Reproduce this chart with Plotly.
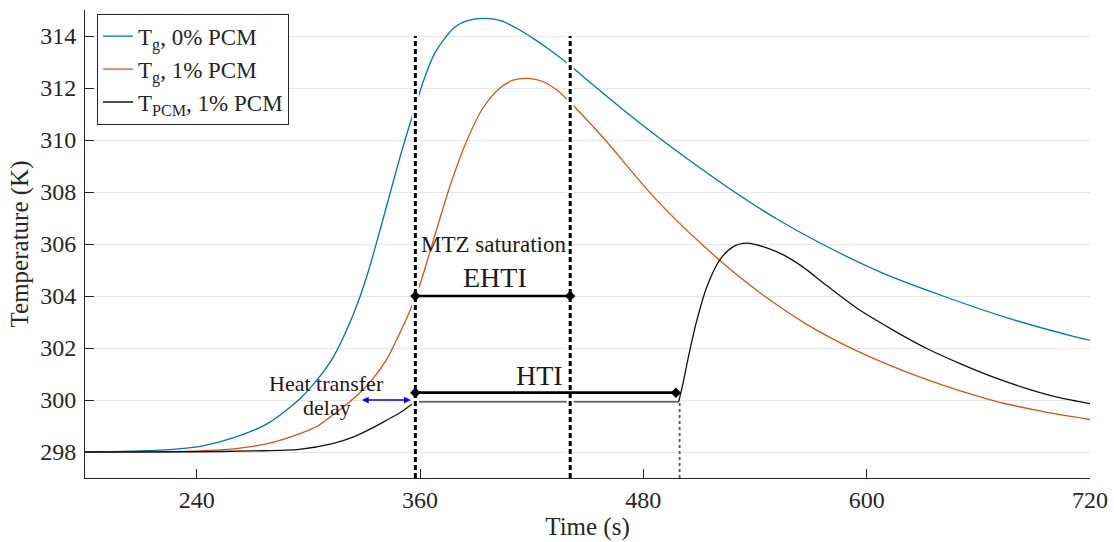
import plotly.graph_objects as go

# Gas temperature, 0 % PCM
t_g0 = [180, 220, 242, 260, 278, 295.5, 305, 313.4, 324.2, 331.4, 340.3, 349.3, 356, 362,
        368, 378, 386, 394, 403, 412, 421, 430, 440, 455, 472, 490, 509, 528, 552, 576,
        608, 641, 676, 711, 720]
T_g0 = [298.0, 298.07, 298.22, 298.55, 299.09, 300.05, 300.8, 301.65, 303.3, 304.75,
        307.0, 309.35, 310.95, 312.3, 313.35, 314.3, 314.6, 314.68, 314.6, 314.3, 313.9,
        313.45, 312.9, 312.0, 311.0, 310.0, 309.0, 308.05, 306.95, 306.0, 304.9, 304.0,
        303.15, 302.45, 302.3]

# Gas temperature, 1 % PCM
t_g1 = [180, 220, 242, 260, 278, 295.5, 305, 313, 320, 328, 335, 342, 348, 355, 360, 367,
        376, 385, 394, 403, 410, 418, 426, 433, 440, 450, 462, 473, 484.5, 498, 512, 528,
        546, 568, 593, 628, 668, 695, 720]
T_g1 = [298.0, 298.01, 298.04, 298.12, 298.32, 298.71, 299.0, 299.41, 299.8, 300.3, 300.85,
        301.55, 302.4, 303.5, 304.45, 306.1, 308.2, 309.95, 311.25, 312.0, 312.3, 312.37,
        312.25, 311.95, 311.5, 310.75, 309.8, 308.85, 307.9, 306.9, 305.95, 304.95, 303.95,
        302.9, 301.95, 300.9, 299.98, 299.55, 299.25]

# PCM temperature, 1 % PCM: heating, melting plateau, then sensible heating / cooling
t_pcm_heat = [180, 240, 270, 295, 313, 325, 335, 342, 349, 354, 357.5]
T_pcm_heat = [298.0, 298.01, 298.04, 298.1, 298.32, 298.6, 298.95, 299.22, 299.5, 299.75, 299.93]
t_pcm_melt = [357.5, 499.0]
T_pcm_melt = [299.93, 299.93]
t_pcm_post = [499.0, 501.5, 504.2, 508.7, 514.1, 521.2, 528.4, 535.6, 546.3, 556, 566,
              578.6, 596.5, 614.4, 632.3, 650.2, 668.1, 686, 703, 720]
T_pcm_post = [299.93, 300.7, 301.65, 303.05, 304.35, 305.4, 305.9, 306.03, 305.85, 305.55,
              305.1, 304.4, 303.45, 302.68, 301.98, 301.4, 300.88, 300.44, 300.1, 299.86]

# Characteristic instants (s) and levels (K)
t_mtz = 357.5        # MTZ saturation start
t_mtz_end = 440.7    # EHTI end
t_hti_end = 497.5    # HTI end
t_melt_end = 499.5   # end of PCM plateau
T_ehti = 304.0
T_hti = 300.28
T_delay = 300.0
t_delay = [328.0, 355.0]

x_ticks = [240, 360, 480, 600, 720]
y_ticks = [298, 300, 302, 304, 306, 308, 310, 312, 314]

FONT = "Liberation Serif, Times New Roman, serif"
INK = "#262626"

fig = go.Figure()

fig.add_trace(go.Scatter(x=t_g0, y=T_g0, mode="lines", name="T<sub>g</sub>, 0% PCM",
                         line=dict(color="#0072BD", width=1.3, shape="spline", smoothing=0.8)))
fig.add_trace(go.Scatter(x=t_g1, y=T_g1, mode="lines", name="T<sub>g</sub>, 1% PCM",
                         line=dict(color="#D95319", width=1.3, shape="spline", smoothing=0.8)))
fig.add_trace(go.Scatter(x=t_pcm_heat, y=T_pcm_heat, mode="lines", name="T<sub>PCM</sub>, 1% PCM",
                         legendgroup="pcm",
                         line=dict(color="#111111", width=1.3, shape="spline", smoothing=0.8)))
fig.add_trace(go.Scatter(x=t_pcm_melt, y=T_pcm_melt, mode="lines", showlegend=False,
                         legendgroup="pcm", hoverinfo="skip",
                         line=dict(color="#333333", width=1.2)))
fig.add_trace(go.Scatter(x=t_pcm_post, y=T_pcm_post, mode="lines", showlegend=False,
                         legendgroup="pcm",
                         line=dict(color="#111111", width=1.3, shape="spline", smoothing=0.8)))

# vertical markers: white halo + black dashes
for tv in (t_mtz, t_mtz_end):
    fig.add_trace(go.Scatter(x=[tv, tv], y=[297, 314], mode="lines", showlegend=False,
                             hoverinfo="skip", line=dict(color="white", width=7)))
    fig.add_trace(go.Scatter(x=[tv, tv], y=[297, 314], mode="lines", showlegend=False,
                             hoverinfo="skip", line=dict(color="black", width=3, dash="5px,3px")))

fig.add_trace(go.Scatter(x=[t_melt_end, t_melt_end], y=[297, T_delay], mode="lines",
                         showlegend=False, hoverinfo="skip",
                         line=dict(color="#555555", width=1.8, dash="3px,3px")))

# interval bars
for x_pair, yv in (([t_mtz, t_mtz_end], T_ehti), ([t_mtz, t_hti_end], T_hti)):
    fig.add_trace(go.Scatter(x=x_pair, y=[yv, yv], mode="lines+markers", showlegend=False,
                             hoverinfo="skip", line=dict(color="black", width=2.7),
                             marker=dict(symbol="diamond", size=8, color="black")))

ann_font = dict(family=FONT, color="#1a1a1a")
fig.add_annotation(x=t_delay[1], y=T_delay, ax=t_delay[0], ay=T_delay, axref="x", ayref="y",
                   xref="x", yref="y", text="", showarrow=True, arrowside="end+start",
                   arrowhead=2, arrowsize=0.9, arrowwidth=1.5, arrowcolor="#0000FF")
fig.add_annotation(x=399.5, y=306.0, text="MTZ saturation", showarrow=False,
                   font=dict(size=23, **ann_font))
fig.add_annotation(x=400.3, y=304.73, text="EHTI", showarrow=False,
                   font=dict(size=28, **ann_font))
fig.add_annotation(x=424, y=300.95, text="HTI", showarrow=False,
                   font=dict(size=28, **ann_font))
fig.add_annotation(x=310, y=300.64, text="Heat transfer", showarrow=False,
                   font=dict(size=22, **ann_font))
fig.add_annotation(x=310, y=299.73, text="delay", showarrow=False,
                   font=dict(size=22, **ann_font))

axis_common = dict(showline=True, linecolor=INK, linewidth=1, ticks="inside", ticklen=9,
                   tickcolor=INK, tickwidth=1, zeroline=False, mirror=False, automargin=False,
                   tickfont=dict(family=FONT, size=24, color=INK))

fig.update_xaxes(range=[180, 720], tickvals=x_ticks, showgrid=False,
                 title=dict(text="Time (s)", font=dict(family=FONT, size=25, color=INK), standoff=3),
                 **axis_common)
fig.update_yaxes(range=[297, 315], tickvals=y_ticks, showgrid=True, gridcolor="#e6e6e6",
                 gridwidth=1, ticklabelstandoff=3,
                 title=dict(text="Temperature (K)", font=dict(family=FONT, size=25, color=INK), standoff=4),
                 **axis_common)

fig.update_layout(
    width=1114, height=542,
    margin=dict(l=85, r=24, t=10, b=64),
    plot_bgcolor="white", paper_bgcolor="white",
    font=dict(family=FONT, color=INK),
    legend=dict(x=0.012, y=0.992, xanchor="left", yanchor="top", bgcolor="white",
                bordercolor=INK, borderwidth=1, font=dict(family=FONT, size=23, color=INK),
                tracegroupgap=0),
    showlegend=True,
)

fig.write_html("out.html")
